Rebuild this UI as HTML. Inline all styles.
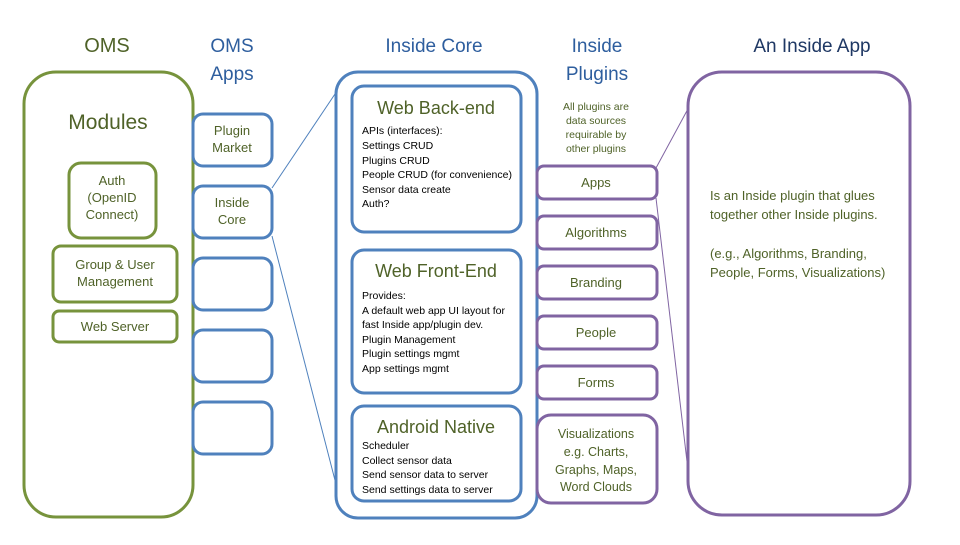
<!DOCTYPE html>
<html><head><meta charset="utf-8"><style>
body{margin:0;background:#fff;}
svg text{font-family:"Liberation Sans",sans-serif;}
</style></head><body>
<svg width="960" height="540" xmlns="http://www.w3.org/2000/svg">
<g fill="none" stroke-width="3">
<rect x="24" y="72" width="169" height="445" rx="32" stroke="#77933C"/>
<rect x="69" y="163" width="87" height="75" rx="12" stroke="#77933C"/>
<rect x="53" y="246" width="124" height="56" rx="8" stroke="#77933C"/>
<rect x="53" y="311" width="124" height="31" rx="6" stroke="#77933C"/>
<g stroke="#4F81BD">
<rect x="193" y="114" width="79" height="52" rx="10"/>
<rect x="193" y="186" width="79" height="52" rx="10"/>
<rect x="193" y="258" width="79" height="52" rx="10"/>
<rect x="193" y="330" width="79" height="52" rx="10"/>
<rect x="193" y="402" width="79" height="52" rx="10"/>
<rect x="336" y="72" width="201" height="446" rx="22"/>
<rect x="352" y="86" width="169" height="146" rx="12"/>
<rect x="352" y="250" width="169" height="143" rx="12"/>
<rect x="352" y="406" width="169" height="95" rx="12"/>
</g>
<g stroke="#8064A2">
<rect x="537" y="166" width="120" height="33" rx="7"/>
<rect x="537" y="216" width="120" height="33" rx="7"/>
<rect x="537" y="266" width="120" height="33" rx="7"/>
<rect x="537" y="316" width="120" height="33" rx="7"/>
<rect x="537" y="366" width="120" height="33" rx="7"/>
<rect x="537" y="415" width="120" height="88" rx="14"/>
<rect x="688" y="72" width="222" height="443" rx="34"/>
</g>
</g>
<g stroke-width="1" fill="none">
<line x1="272" y1="188" x2="337" y2="91" stroke="#4F81BD"/>
<line x1="272" y1="236" x2="337" y2="488" stroke="#4F81BD"/>
<line x1="656" y1="168" x2="689" y2="107" stroke="#8064A2"/>
<line x1="656" y1="198" x2="688" y2="470" stroke="#8064A2"/>
</g>
<g text-anchor="middle" fill="#4F6228">
<text x="107" y="52" font-size="20">OMS</text>
<text x="108" y="129" font-size="21">Modules</text>
<text x="112" y="185" font-size="13">Auth</text>
<text x="112" y="202" font-size="13">(OpenID</text>
<text x="112" y="219" font-size="13">Connect)</text>
<text x="115" y="269" font-size="13">Group &amp; User</text>
<text x="115" y="286" font-size="13">Management</text>
<text x="115" y="331" font-size="13">Web Server</text>
<text x="232" y="135" font-size="13">Plugin</text>
<text x="232" y="152" font-size="13">Market</text>
<text x="232" y="207" font-size="13">Inside</text>
<text x="232" y="224" font-size="13">Core</text>
<text x="436" y="114" font-size="18">Web Back-end</text>
<text x="436" y="277" font-size="18">Web Front-End</text>
<text x="436" y="433" font-size="18">Android Native</text>
<text x="596" y="110" font-size="10.5">All plugins are</text>
<text x="596" y="124" font-size="10.5">data sources</text>
<text x="596" y="138" font-size="10.5">requirable by</text>
<text x="596" y="152" font-size="10.5">other plugins</text>
<text x="596" y="187" font-size="13">Apps</text>
<text x="596" y="237" font-size="13">Algorithms</text>
<text x="596" y="287" font-size="13">Branding</text>
<text x="596" y="337" font-size="13">People</text>
<text x="596" y="387" font-size="13">Forms</text>
<text x="596" y="438" font-size="12.5">Visualizations</text>
<text x="596" y="456" font-size="12.5">e.g. Charts,</text>
<text x="596" y="474" font-size="12.5">Graphs, Maps,</text>
<text x="596" y="491" font-size="12.5">Word Clouds</text>
<text x="812" y="52" font-size="19" fill="#1F3864">An Inside App</text>
</g>
<g text-anchor="middle" fill="#2E5E9E">
<text x="232" y="52" font-size="19">OMS</text>
<text x="232" y="80" font-size="19">Apps</text>
<text x="434" y="52" font-size="19">Inside Core</text>
<text x="597" y="52" font-size="19">Inside</text>
<text x="597" y="80" font-size="19">Plugins</text>
</g>
<g fill="#000" font-size="10.5">
<text x="362" y="134">APIs (interfaces):</text>
<text x="362" y="149">Settings CRUD</text>
<text x="362" y="164">Plugins CRUD</text>
<text x="362" y="178">People CRUD (for convenience)</text>
<text x="362" y="193">Sensor data create</text>
<text x="362" y="207">Auth?</text>
<text x="362" y="299">Provides:</text>
<text x="362" y="314">A default web app UI layout for</text>
<text x="362" y="328">fast Inside app/plugin dev.</text>
<text x="362" y="343">Plugin Management</text>
<text x="362" y="357">Plugin settings mgmt</text>
<text x="362" y="372">App settings mgmt</text>
<text x="362" y="449">Scheduler</text>
<text x="362" y="464">Collect sensor data</text>
<text x="362" y="478">Send sensor data to server</text>
<text x="362" y="493">Send settings data to server</text>
</g>
<g fill="#4F6228" font-size="13">
<text x="710" y="200">Is an Inside plugin that glues</text>
<text x="710" y="219">together other Inside plugins.</text>
<text x="710" y="258">(e.g., Algorithms, Branding,</text>
<text x="710" y="277">People, Forms, Visualizations)</text>
</g>
</svg>
</body></html>
